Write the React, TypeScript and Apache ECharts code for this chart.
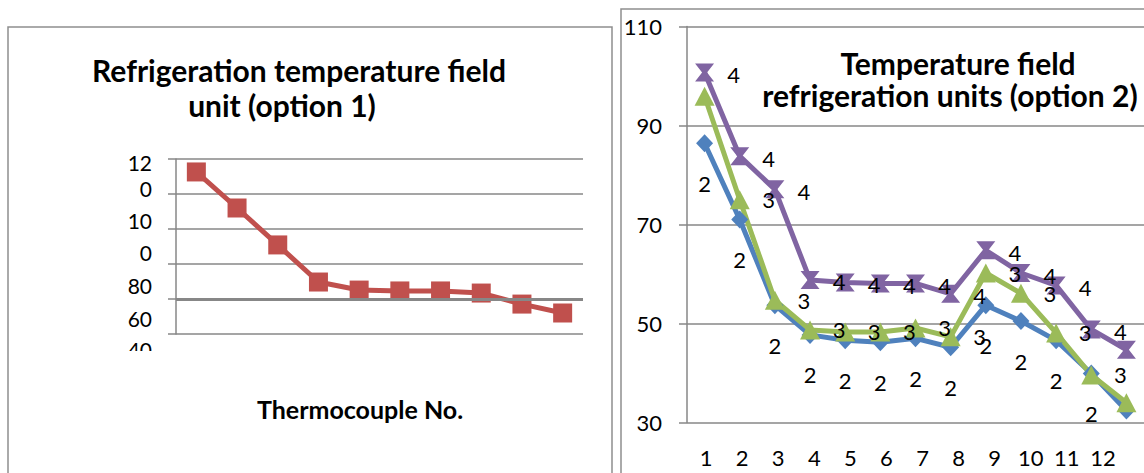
import React, { useEffect, useRef } from "react";
import * as echarts from "echarts";

const FONT = 'Lato, "Open Sans", sans-serif';
const GRID_COLOR = "#878787";
const FRAME_COLOR = "#8e8e8e";

// ---- Chart 1 (option 1) ----
const option1Title = ["Refrigeration temperature field", "unit (option 1)"];
const option1AxisName = "Thermocouple No.";
const option1Categories = ["1", "2", "3", "4", "5", "6", "7", "8", "9", "10"];
const option1Values = [112.6, 92.0, 70.9, 49.7, 45.1, 44.6, 44.6, 43.4, 37.1, 32.0];
const option1YTickLabels = ["12", "0", "10", "0", "80", "60", "40"];
// layout: vertical centres of the (wrapped, overflowing) tick label lines
const option1YTickLabelY = [162, 188, 220, 252, 285, 318, 349];

// ---- Chart 2 (option 2) ----
const option2Title = ["Temperature field", "refrigeration units (option 2)"];
const option2Categories = ["1", "2", "3", "4", "5", "6", "7", "8", "9", "10", "11", "12", "13"];
const option2TickLabels = ["1", "2", "3", "4", "5", "6", "7", "8", "9", "10", "11", "12"];
const seriesNames = ["2", "3", "4"];
const series2Values = [86.4, 71.0, 53.7, 47.7, 46.6, 46.2, 47.0, 45.2, 53.7, 50.5, 46.6, 39.9, 32.4];
const series3Values = [95.9, 75.0, 54.7, 48.7, 48.3, 48.3, 49.1, 47.3, 60.2, 56.1, 48.1, 39.6, 34.0];
const series4Values = [100.7, 83.8, 77.1, 58.8, 58.3, 58.1, 58.1, 56.0, 64.8, 60.2, 57.7, 48.8, 44.7];
const hiddenLabels2 = [12];
const hiddenLabels3 = [0];

const HOURGLASS = "path://M0,0L10,0L6.3,5L10,10L0,10L3.7,5Z";

function withHidden(values: number[], hidden: number[]) {
  return values.map((v, i) => (hidden.includes(i) ? { value: v, label: { show: false } } : v));
}

export default function App() {
  const ref = useRef<HTMLDivElement>(null);

  useEffect(() => {
    if (!ref.current) return;
    const chart = echarts.init(ref.current, undefined, { renderer: "svg" });

    const labelBase = { show: true, position: "inside", fontSize: 22, color: "#000", fontFamily: FONT, formatter: "{a}" };

    const titleStyle = (text: string, size: number) => ({
      text, fill: "#000", fontSize: size, fontWeight: "bold", fontFamily: FONT,
      textAlign: "center", textVerticalAlign: "middle",
    });

    const option: any = {
      animation: false,
      backgroundColor: "#fff",
      textStyle: { fontFamily: FONT },
      grid: [
        { left: 176, right: 561, top: 159, bottom: 139 },
        { left: 687, right: -2, top: 26.5, bottom: 50.5 },
        { left: 688, right: 23, top: 26.5, bottom: 50.5 },
      ],
      xAxis: [
        {
          gridIndex: 0, type: "category", data: option1Categories, boundaryGap: true,
          axisLine: { show: false }, axisTick: { show: false }, axisLabel: { show: false },
        },
        {
          gridIndex: 1, type: "category", data: option2Categories, boundaryGap: true,
          axisLine: { show: false }, axisTick: { show: false }, axisLabel: { show: false },
        },
        {
          gridIndex: 2, type: "category", data: option2TickLabels, boundaryGap: true,
          axisLine: { show: false }, axisTick: { show: false },
          axisLabel: { interval: 0, fontSize: 22, color: "#000", fontFamily: FONT, margin: 24 },
        },
      ],
      yAxis: [
        {
          gridIndex: 0, type: "value", min: 20, max: 120, interval: 20,
          axisLine: { show: true, lineStyle: { color: GRID_COLOR, width: 1.5 } },
          axisTick: { show: true, length: 8, lineStyle: { color: GRID_COLOR, width: 1.5 } },
          axisLabel: { show: false },
          splitLine: { show: true, lineStyle: { color: GRID_COLOR, width: 1.5 } },
        },
        {
          gridIndex: 1, type: "value", min: 30, max: 110, interval: 20,
          axisLine: { show: true, lineStyle: { color: GRID_COLOR, width: 1.5 } },
          axisTick: { show: true, length: 8, lineStyle: { color: GRID_COLOR, width: 1.5 } },
          axisLabel: { fontSize: 22, color: "#000", fontFamily: FONT, margin: 25 },
          splitLine: { show: true, lineStyle: { color: GRID_COLOR, width: 1.5 } },
        },
        { gridIndex: 2, type: "value", min: 0, max: 1, show: false },
      ],
      series: [
        {
          name: "option 1", type: "line", xAxisIndex: 0, yAxisIndex: 0, data: option1Values,
          symbol: "rect", symbolSize: 19,
          lineStyle: { color: "#C0504D", width: 5 }, itemStyle: { color: "#C0504D" },
          markLine: {
            silent: true, symbol: "none", label: { show: false },
            lineStyle: { color: GRID_COLOR, width: 2.8, type: "solid" },
            data: [{ yAxis: 40 }],
          },
          z: 2,
        },
        {
          name: seriesNames[0], type: "line", xAxisIndex: 1, yAxisIndex: 1,
          data: withHidden(series2Values, hiddenLabels2),
          symbol: "diamond", symbolSize: [17, 18],
          lineStyle: { color: "#4F81BD", width: 5 }, itemStyle: { color: "#4F81BD" },
          label: { ...labelBase, offset: [0, 40] },
        },
        {
          name: seriesNames[1], type: "line", xAxisIndex: 1, yAxisIndex: 1,
          data: withHidden(series3Values, hiddenLabels3),
          symbol: "triangle", symbolSize: [20, 19],
          lineStyle: { color: "#9BBB59", width: 5 }, itemStyle: { color: "#9BBB59" },
          label: { ...labelBase, offset: [29, 0] },
        },
        {
          name: seriesNames[2], type: "line", xAxisIndex: 1, yAxisIndex: 1,
          data: series4Values,
          symbol: HOURGLASS, symbolSize: [19, 18],
          lineStyle: { color: "#8064A2", width: 5 }, itemStyle: { color: "#8064A2" },
          label: { ...labelBase, offset: [29, 2] },
        },
      ],
      graphic: [
        {
          type: "rect", shape: { x: 8, y: 27, width: 604, height: 480 },
          style: { fill: "none", stroke: FRAME_COLOR, lineWidth: 1.5 }, silent: true,
        },
        {
          type: "rect", shape: { x: 621, y: 9, width: 560, height: 500 },
          style: { fill: "none", stroke: FRAME_COLOR, lineWidth: 1.5 }, silent: true,
        },
        { type: "text", x: 299, y: 70, style: titleStyle(option1Title[0], 30) },
        { type: "text", x: 282, y: 105, style: titleStyle(option1Title[1], 30) },
        ...option1YTickLabels.map((t, i) => ({
          type: "text", x: 152, y: option1YTickLabelY[i],
          style: { text: t, fill: "#000", fontSize: 21, fontFamily: FONT, textAlign: "right", textVerticalAlign: "middle" },
        })),
        {
          type: "rect", z: 20, shape: { x: 95, y: 351, width: 70, height: 32 },
          style: { fill: "#fff" }, silent: true,
        },
        { type: "text", x: 360, y: 409, style: titleStyle(option1AxisName, 25) },
        { type: "text", x: 958, y: 63, style: titleStyle(option2Title[0], 30) },
        { type: "text", x: 950, y: 95, style: titleStyle(option2Title[1], 30) },
      ],
    };

    chart.setOption(option);
    return () => chart.dispose();
  }, []);

  return (
    <div
      ref={ref}
      style={{ position: "absolute", left: 0, top: 0, width: 1144, height: 473, background: "#fff" }}
    />
  );
}
